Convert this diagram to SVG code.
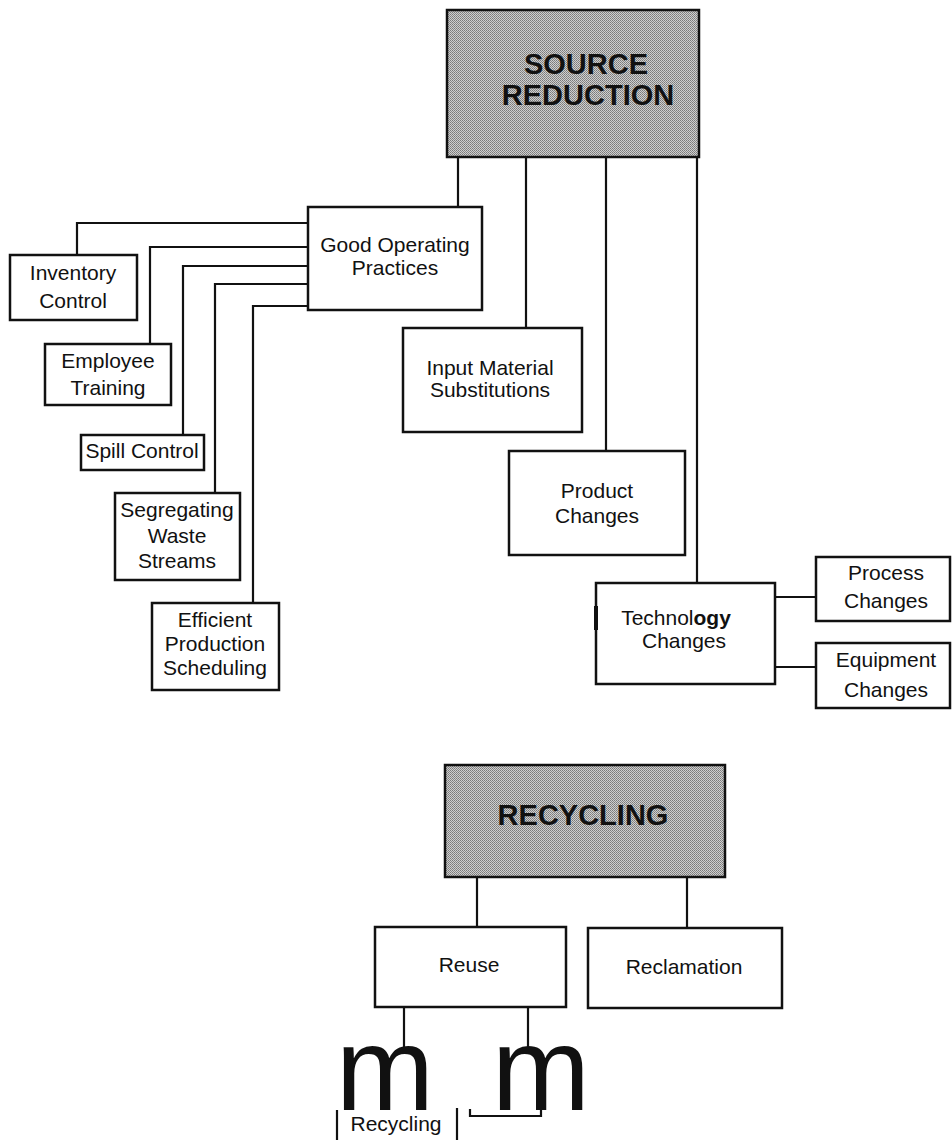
<svg xmlns="http://www.w3.org/2000/svg" width="952" height="1140" viewBox="0 0 952 1140">
<style>
.box{fill:#fff;stroke:#111;stroke-width:2.5}
.head{fill:url(#dots);stroke:#111;stroke-width:2.5}
.t{font-family:"Liberation Sans",Arial,sans-serif;font-size:21px;fill:#111;text-anchor:middle}
.h{font-family:"Liberation Sans",Arial,sans-serif;font-size:29px;font-weight:bold;fill:#111;text-anchor:middle}
.m{font-family:"Liberation Sans",Arial,sans-serif;font-size:118px;fill:#111;text-anchor:middle}
.w{fill:none;stroke:#111;stroke-width:2.2}
</style>
<defs>
<pattern id="dots" width="2" height="2" patternUnits="userSpaceOnUse">
<rect width="2" height="2" fill="#cfcfcf"/>
<rect width="1" height="1" fill="#7a7a7a"/>
<rect x="1" y="1" width="1" height="1" fill="#8a8a8a"/>
</pattern>
</defs>
<rect width="952" height="1140" fill="#fff"/>
<g id="connectors">
<path class="w" d="M458 157V207"/>
<path class="w" d="M526 157V328"/>
<path class="w" d="M606 157V451"/>
<path class="w" d="M697 157V583"/>
<path class="w" d="M308 223H77V255"/>
<path class="w" d="M308 247H150V344"/>
<path class="w" d="M308 266H183V435"/>
<path class="w" d="M308 284H215V493"/>
<path class="w" d="M308 306H253V603"/>
<path class="w" d="M775 597H816"/>
<path class="w" d="M775 667H816"/>
<path class="w" d="M477 877V927"/>
<path class="w" d="M687 877V928"/>
<path class="w" d="M404 1007V1048"/>
<path class="w" d="M528 1007V1048"/>
<path class="w" d="M337 1110V1140"/>
<path class="w" d="M457 1108V1140"/>
<path class="w" d="M470 1109V1116H541V1109"/>
</g>
<g id="source-reduction">
<rect class="head" x="447" y="10" width="252" height="147"/>
<text class="h" x="586" y="74">SOURCE</text>
<text class="h" x="588" y="105">REDUCTION</text>
</g>
<g id="good-operating-practices">
<rect class="box" x="308" y="207" width="174" height="103"/>
<text class="t" x="395" y="252">Good Operating</text>
<text class="t" x="395" y="275">Practices</text>
</g>
<g id="inventory-control">
<rect class="box" x="10" y="255" width="127" height="65"/>
<text class="t" x="73" y="280">Inventory</text>
<text class="t" x="73" y="308">Control</text>
</g>
<g id="employee-training">
<rect class="box" x="45" y="344" width="126" height="61"/>
<text class="t" x="108" y="368">Employee</text>
<text class="t" x="108" y="395">Training</text>
</g>
<g id="spill-control">
<rect class="box" x="81" y="435" width="123" height="35"/>
<text class="t" x="142" y="458">Spill Control</text>
</g>
<g id="segregating-waste-streams">
<rect class="box" x="115" y="493" width="125" height="87"/>
<text class="t" x="177" y="517">Segregating</text>
<text class="t" x="177" y="543">Waste</text>
<text class="t" x="177" y="568">Streams</text>
</g>
<g id="efficient-production-scheduling">
<rect class="box" x="152" y="603" width="127" height="87"/>
<text class="t" x="215" y="627">Efficient</text>
<text class="t" x="215" y="651">Production</text>
<text class="t" x="215" y="675">Scheduling</text>
</g>
<g id="input-material-substitutions">
<rect class="box" x="403" y="328" width="179" height="104"/>
<text class="t" x="490" y="375">Input Material</text>
<text class="t" x="490" y="397">Substitutions</text>
</g>
<g id="product-changes">
<rect class="box" x="509" y="451" width="176" height="104"/>
<text class="t" x="597" y="498">Product</text>
<text class="t" x="597" y="523">Changes</text>
</g>
<g id="technology-changes">
<rect class="box" x="596" y="583" width="179" height="101"/>
<path d="M596 606V630" stroke="#111" stroke-width="4"/>
<text class="t" x="676" y="625">Technol<tspan font-weight="bold">ogy</tspan></text>
<text class="t" x="684" y="648">Changes</text>
</g>
<g id="process-changes">
<rect class="box" x="816" y="557" width="134" height="64"/>
<text class="t" x="886" y="580">Process</text>
<text class="t" x="886" y="608">Changes</text>
</g>
<g id="equipment-changes">
<rect class="box" x="816" y="643" width="134" height="65"/>
<text class="t" x="886" y="667">Equipment</text>
<text class="t" x="886" y="697">Changes</text>
</g>
<g id="recycling">
<rect class="head" x="445" y="765" width="280" height="112"/>
<text class="h" x="583" y="825">RECYCLING</text>
</g>
<g id="reuse">
<rect class="box" x="375" y="927" width="191" height="80"/>
<text class="t" x="469" y="972">Reuse</text>
</g>
<g id="reclamation">
<rect class="box" x="588" y="928" width="194" height="80"/>
<text class="t" x="684" y="974">Reclamation</text>
</g>
<g id="m-glyphs">
<text class="m" x="385" y="1110">m</text>
<text class="m" x="541" y="1110">m</text>
</g>
<g id="recycling-label">
<text class="t" x="396" y="1131" font-size="19">Recycling</text>
</g>
</svg>
